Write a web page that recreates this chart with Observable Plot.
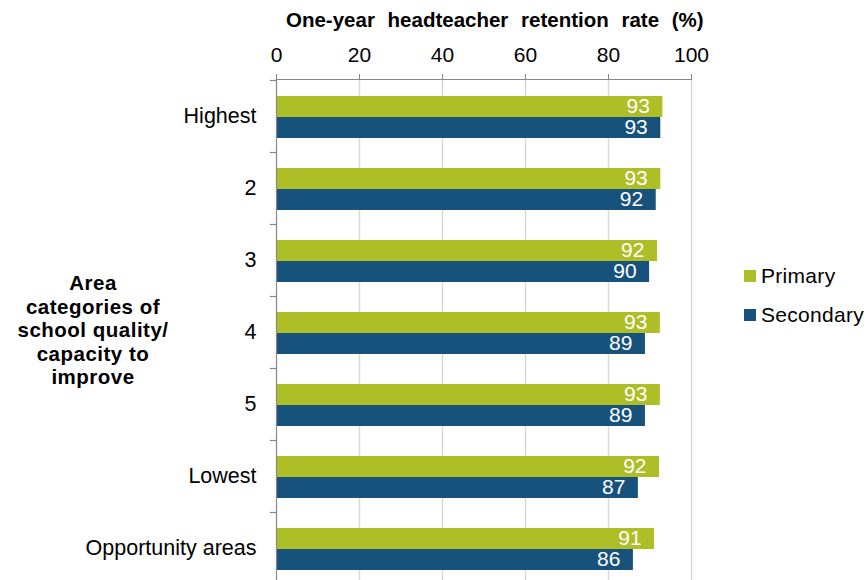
<!DOCTYPE html>
<html>
<head>
<meta charset="utf-8">
<script src="https://cdn.jsdelivr.net/npm/d3@7"></script>
<script src="https://cdn.jsdelivr.net/npm/@observablehq/plot@0.6"></script>
<style>
  html, body { margin: 0; padding: 0; background: #fff; }
  #wrap { position: relative; width: 868px; height: 580px; overflow: hidden; font-family: "Liberation Sans", Arial, sans-serif; color: #000; }
  #title { position: absolute; left: 286px; top: 8px; font-weight: bold; font-size: 20.5px; word-spacing: 7px; white-space: nowrap; }
  #ytitle { position: absolute; left: 3px; top: 271px; width: 180px; text-align: center; font-weight: bold; font-size: 20.5px; letter-spacing: 0.5px; line-height: 23.5px; }
  .leg { position: absolute; left: 744px; font-size: 21px; letter-spacing: 0.3px; white-space: nowrap; display: flex; align-items: center; }
  .sw { display: inline-block; width: 12px; height: 12px; margin-right: 5px; }
  svg { position: absolute; left: 0; top: 0; }
</style>
</head>
<body>
<div id="wrap">
  <div id="title">One-year headteacher retention rate (%)</div>
  <div id="ytitle">Area<br>categories of<br>school quality/<br>capacity to<br>improve</div>
  <div id="legend"></div>
</div>
<script>
const categories = ["Highest", "2", "3", "4", "5", "Lowest", "Opportunity areas"];
const seriesNames = ["Primary", "Secondary"];
const primary = [93.1, 92.6, 91.8, 92.5, 92.5, 92.3, 91.1];
const secondary = [92.6, 91.5, 89.9, 88.9, 88.9, 87.2, 86.0];
const xTicks = [0, 20, 40, 60, 80, 100];
const colors = ["#adbe27", "#17527d"];

const rows = categories.flatMap((c, i) => [
  {cat: c, series: "Primary", value: primary[i]},
  {cat: c, series: "Secondary", value: secondary[i]}
]);
const prim = rows.filter(d => d.series === "Primary");
const sec = rows.filter(d => d.series === "Secondary");

const bandTicks = (index, scales) => {
  const g = d3.create("svg:g").attr("stroke", "#868686").attr("stroke-width", 1.2);
  for (const c of categories) {
    const y = Math.round(scales.y(c)) + 0.5;
    g.append("line").attr("x1", 270).attr("x2", 276).attr("y1", y).attr("y2", y);
  }
  return g.node();
};

const chart = Plot.plot({
  width: 868,
  height: 580,
  marginTop: 79,
  marginLeft: 276,
  marginRight: 177,
  marginBottom: 0,
  style: {fontFamily: "'Liberation Sans', Arial, sans-serif", background: "transparent", overflow: "visible"},
  x: {domain: [0, 100]},
  y: {domain: categories, range: [79, 584], padding: 0},
  marks: [
    Plot.ruleX(xTicks.slice(1), {stroke: "#d9d9d9", strokeWidth: 1.5}),
    Plot.barX(prim, {x: "value", y: "cat", fill: colors[0], insetTop: 16, insetBottom: 35}),
    Plot.barX(sec, {x: "value", y: "cat", fill: colors[1], insetTop: 37, insetBottom: 14}),
    Plot.text(prim, {x: "value", y: "cat", text: d => String(Math.round(d.value)), textAnchor: "end", dx: -13, dy: -10, fill: "white", fontSize: 21}),
    Plot.text(sec, {x: "value", y: "cat", text: d => String(Math.round(d.value)), textAnchor: "end", dx: -13, dy: 11, fill: "white", fontSize: 21}),
    Plot.frame({anchor: "top", stroke: "#868686", strokeWidth: 1.2}),
    Plot.frame({anchor: "left", stroke: "#868686", strokeWidth: 1.2}),
    Plot.axisX({anchor: "top", ticks: xTicks, tickSize: 6, tickPadding: 12, fontSize: 21, label: null, stroke: "#868686", color: "#000"}),
    Plot.axisY({tickSize: 0, tickPadding: 20, fontSize: 21.5, label: null, color: "#000"}),
    bandTicks
  ]
});
document.getElementById("wrap").appendChild(chart);

const legend = document.getElementById("legend");
seriesNames.forEach((s, i) => {
  const el = document.createElement("div");
  el.className = "leg";
  el.style.top = (264 + i * 39) + "px";
  el.innerHTML = `<span class="sw" style="background:${colors[i]}"></span>${s}`;
  legend.appendChild(el);
});
</script>
</body>
</html>
